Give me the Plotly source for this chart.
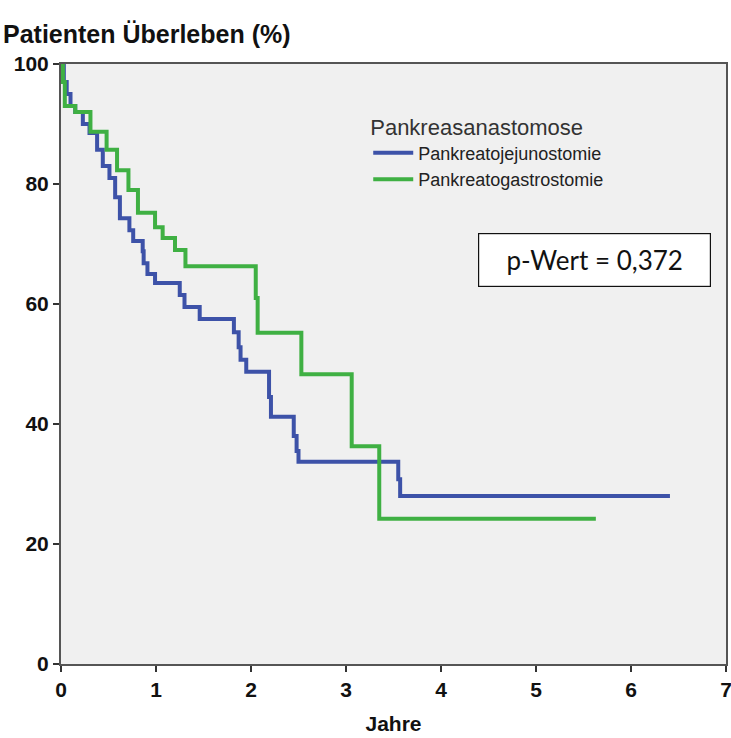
import plotly.graph_objects as go

# Kaplan-Meier step data (time in years, survival in %)
pj_time = [0, 0.03, 0.06, 0.10, 0.15, 0.23, 0.30, 0.38, 0.44, 0.51, 0.57, 0.62, 0.72, 0.76,
           0.86, 0.87, 0.91, 0.99, 1.25, 1.30, 1.46, 1.82, 1.87, 1.89, 1.95, 2.19, 2.21,
           2.45, 2.48, 2.50, 3.55, 3.57, 6.41]
pj_surv = [100, 97, 95, 93, 92, 90, 88.5, 85.7, 83, 81, 77.8, 74.3, 72.3, 70.5,
           68.8, 66.8, 65, 63.5, 61.5, 59.5, 57.5, 55.3, 52.8, 50.7, 48.7, 44.5, 41.2,
           38, 35.5, 33.7, 30.8, 28, 28]

pg_time = [0, 0.02, 0.04, 0.15, 0.31, 0.48, 0.59, 0.71, 0.81, 0.99, 1.07, 1.20, 1.31,
           2.05, 2.07, 2.53, 3.06, 3.35, 5.63]
pg_surv = [100, 97, 93, 92, 88.7, 85.7, 82.3, 79, 75.2, 72.8, 71, 69, 66.3,
           61, 55.2, 48.3, 36.3, 24.2, 24.2]

x_ticks = [0, 1, 2, 3, 4, 5, 6, 7]
y_ticks = [0, 20, 40, 60, 80, 100]

series_names = ["Pankreatojejunostomie", "Pankreatogastrostomie"]
legend_title = "Pankreasanastomose"
p_text = "p-Wert = 0,372"

BLUE = "#3d52a8"
GREEN = "#3fb043"

fig = go.Figure()
fig.add_trace(go.Scatter(x=pj_time, y=pj_surv, mode="lines", line_shape="hv",
                         line=dict(color=BLUE, width=4), name=series_names[0]))
fig.add_trace(go.Scatter(x=pg_time, y=pg_surv, mode="lines", line_shape="hv",
                         line=dict(color=GREEN, width=4), name=series_names[1]))

axis_font = dict(family="Liberation Sans, Arial, sans-serif", size=21, color="#111")
fig.update_layout(
    width=731, height=738,
    margin=dict(l=61, r=5, t=64, b=74, autoexpand=False),
    paper_bgcolor="white",
    plot_bgcolor="#f0f0f0",
    showlegend=True,
    legend=dict(
        x=0.462, y=0.93, xanchor="left", yanchor="top",
        bgcolor="rgba(0,0,0,0)",
        title=dict(text=legend_title,
                   font=dict(family="Liberation Sans, Arial, sans-serif", size=22, color="#333")),
        font=dict(family="Liberation Sans, Arial, sans-serif", size=18, color="#222"),
        tracegroupgap=0, itemwidth=40,
    ),
    title=dict(text="<b>Patienten Überleben (%)</b>", xref="container", yref="container",
               x=0, xanchor="left", y=0.953, yanchor="middle", pad=dict(l=3, r=0, t=0, b=0),
               font=dict(family="Liberation Sans, Arial, sans-serif", size=25, color="#111")),
    xaxis=dict(range=[0, 7], tickvals=x_ticks, ticktext=[f"<b>{v}</b>" for v in x_ticks],
               showgrid=False, zeroline=False, showline=True, linecolor="#555", linewidth=2,
               mirror=True, ticks="outside", ticklen=6, tickwidth=2, tickcolor="#333",
               tickfont=axis_font, automargin=False, ticklabeloverflow="allow",
               title=dict(text="<b>Jahre</b>", font=axis_font, standoff=16)),
    yaxis=dict(range=[0, 100], tickvals=y_ticks, ticktext=[f"<b>{v}</b>" for v in y_ticks],
               showgrid=False, zeroline=False, showline=True, linecolor="#555", linewidth=2,
               mirror=True, ticks="outside", ticklen=6, tickwidth=2, tickcolor="#333",
               tickfont=axis_font, automargin=False, ticklabeloverflow="allow"),
)

fig.add_annotation(
    xref="paper", yref="paper", x=0.802, y=0.673, xanchor="center", yanchor="middle",
    text=p_text, showarrow=False,
    font=dict(family="Lato, Open Sans, sans-serif", size=26, color="#111"),
    bgcolor="white", bordercolor="#111", borderwidth=1.2,
    width=229, height=50,
)

fig.write_html("out.html", config={"displayModeBar": False},
               post_script="document.body.style.margin='0';document.body.style.overflow='hidden';")
